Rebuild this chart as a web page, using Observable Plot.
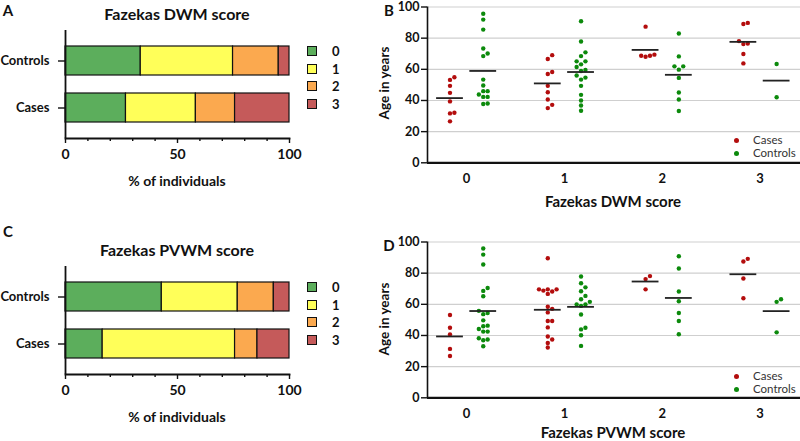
<!DOCTYPE html>
<html><head><meta charset="utf-8">
<script src="https://cdn.jsdelivr.net/npm/d3@7"></script>
<script src="https://cdn.jsdelivr.net/npm/@observablehq/plot@0.6"></script>
<style>
body{margin:0;background:#fff;}
#root{position:relative;width:800px;height:441px;overflow:hidden;font-family:Lato,"Open Sans",sans-serif;color:#111;}
.abs{position:absolute;white-space:nowrap;line-height:1;}
svg{overflow:visible;}
</style></head><body><div id="root"></div>
<script>
// ---------- data ----------
const scores = ["0", "1", "2", "3"];
const groups = ["Controls", "Cases"];
const barColors = ["#5cae5c", "#ffff59", "#fba94f", "#c55a5a"];

// % of individuals per Fazekas score
const dwmControlsPct = [33.6, 41.2, 20.4, 4.8];
const dwmCasesPct = [27.0, 31.2, 17.5, 24.3];
const pvwmControlsPct = [43.0, 33.9, 16.1, 7.0];
const pvwmCasesPct = [16.6, 59.1, 10.0, 14.3];

// ages (years) per score 0..3
const dwmCasesAges = [
  [54.9, 53.2, 49.4, 44.9, 39.4, 31.7, 32.1, 26.6],
  [69.1, 66.6, 57.0, 58.3, 49.4, 45.3, 40.6, 35.1, 37.2],
  [87.4, 68.1, 69.4, 68.7, 68.7],
  [89.1, 89.8, 78.1, 76.2, 76.6, 69.8, 63.8]
];
const dwmControlsAges = [
  [95.7, 91.9, 85.5, 73.4, 70.2, 68.5, 53.4, 49.6, 46.0, 46.0, 43.8, 42.3, 42.3, 37.7, 38.1],
  [90.9, 77.9, 68.5, 70.9, 65.1, 65.1, 63.2, 61.5, 58.9, 59.6, 56.0, 53.4, 54.7, 49.4, 43.6, 40.0, 36.8, 33.4],
  [83.0, 68.3, 59.8, 61.9, 61.9, 54.5, 45.1, 40.6, 33.2],
  [63.4, 42.1]
];
const pvwmCasesAges = [
  [53.1, 45.0, 40.6, 31.4, 26.8],
  [89.6, 68.2, 69.6, 69.6, 69.6, 66.7, 68.8, 58.4, 54.8, 57.1, 49.3, 49.3, 45.2, 39.3, 37.4, 35.2, 32.3],
  [76.2, 78.1, 69.6],
  [87.5, 89.2, 76.6, 63.9]
];
const pvwmControlsAges = [
  [95.8, 91.9, 85.6, 68.6, 70.5, 65.2, 53.7, 55.8, 54.4, 49.7, 46.3, 45.9, 44.2, 42.5, 42.5, 36.9, 38.2, 37.4, 33.1],
  [77.9, 73.5, 70.9, 68.4, 63.3, 65.4, 61.6, 59.0, 59.9, 59.9, 53.5, 43.9, 45.0, 40.1, 33.3],
  [90.9, 83.0, 68.2, 62.0, 54.4, 49.3, 40.8],
  [61.6, 63.3, 42.0]
];
const ageTicks = [0, 20, 40, 60, 80, 100];
const scoreTicks = [0, 1, 2, 3];
const dotGroups = ["Cases", "Controls"];
const dotColors = ["#b30d0d", "#0c8a0c"];

// ---------- helpers ----------
const root = document.getElementById("root");
function txt(s, cx, cy, size, weight, extra = {}) {
  const d = document.createElement("div");
  d.className = "abs";
  d.textContent = s;
  Object.assign(d.style, {left: cx + "px", top: cy + "px", fontSize: size + "px", fontWeight: weight,
    transform: "translate(-50%,-50%)" + (extra.rotate ? " rotate(-90deg)" : "")}, extra.style || {});
  root.appendChild(d);
}
function txtL(s, x, cy, size, weight, color) {
  const d = document.createElement("div");
  d.className = "abs";
  d.textContent = s;
  Object.assign(d.style, {left: x + "px", top: cy + "px", fontSize: size + "px", fontWeight: weight,
    transform: "translateY(-50%)", color: color || "#111"});
  root.appendChild(d);
}
function place(el, left, top) {
  el.style.position = "absolute"; el.style.left = left + "px"; el.style.top = top + "px";
  root.appendChild(el);
}

// ---------- bar panels ----------
function barPanel(ctrl, cases) {
  const data = [];
  scores.forEach((s, i) => {
    data.push({group: "Controls", score: s, pct: ctrl[i]});
    data.push({group: "Cases", score: s, pct: cases[i]});
  });
  return Plot.plot({
    width: 300, height: 195, marginLeft: 65, marginRight: 11, marginTop: 30, marginBottom: 57,
    style: {fontFamily: "Lato, sans-serif", fontSize: "13px", fontWeight: "bold", color: "#111", background: "transparent"},
    x: {domain: [0, 100], label: null},
    y: {domain: groups, paddingInner: 0.383, paddingOuter: 0.34, label: null},
    color: {domain: scores, range: barColors},
    marks: [
      Plot.barX(data, Plot.stackX({x: "pct", y: "group", fill: "score", order: scores, stroke: "#111", strokeWidth: 1.2})),
      Plot.axisX({ticks: [0, 50, 100], tickSize: 5, tickPadding: 6, strokeWidth: 1.4, label: null, fontSize: 14}),
      Plot.axisX({ticks: d3.range(10, 100, 10).filter(v => v !== 50), tickSize: 3, tickFormat: () => "", strokeWidth: 1.4, label: null}),
      Plot.axisY({tickSize: 7, tickPadding: 9, strokeWidth: 1.4, label: null, fontSize: 13}),
      Plot.ruleX([0], {stroke: "#111", strokeWidth: 1.8}),
      Plot.frame({anchor: "bottom", stroke: "#111", strokeWidth: 1.8})
    ]
  });
}
function barLegend(cyList) {
  scores.forEach((s, i) => {
    const sq = document.createElement("div");
    Object.assign(sq.style, {width: "10px", height: "10px", background: barColors[i], border: "1px solid #111", boxSizing: "border-box"});
    place(sq, 307, cyList[i] - 5);
    txtL(s, 332, cyList[i], 13, "bold");
  });
}

// ---------- dot panels ----------
const DW = 420, DH = 190, DML = 47, DMR = 0, DMT = 5.5, DMB = 28.7;
const xDom = [-0.4, 3.414];
const pxPerUnit = (DW - DML - DMR) / (xDom[1] - xDom[0]);
const yPix = d3.scaleLinear([0, 100], [DH - DMB, DMT]);
const dotR = 2.2, dotD = 4.4;

function swarm(vals) {
  const idx = vals.map((_, i) => i).sort((a, b) => vals[a] - vals[b]);
  const placed = [];
  const out = new Array(vals.length).fill(0);
  for (const i of idx) {
    const y = yPix(vals[i]);
    const near = placed.filter(p => Math.abs(p.y - y) < dotD);
    const bias = d3.sum(near, p => p.dx);
    const ok = c => near.every(p => (c - p.dx) ** 2 + (y - p.y) ** 2 >= dotD * dotD * 0.97);
    let chosen = 0;
    for (let k = 0; k < 20; k++) {
      const cands = k === 0 ? [0] : (bias > 0 ? [-k * dotD, k * dotD] : [k * dotD, -k * dotD]);
      const c = cands.find(ok);
      if (c !== undefined) { chosen = c; break; }
    }
    out[i] = chosen;
    placed.push({y, dx: chosen});
  }
  return out;
}

function dotPanel(casesAges, ctrlAges) {
  const dots = [], means = [];
  [["Cases", casesAges, -0.17], ["Controls", ctrlAges, 0.17]].forEach(([g, arr, off]) => {
    arr.forEach((vals, ci) => {
      const dx = swarm(vals);
      vals.forEach((v, j) => dots.push({group: g, age: v, x: ci + off + dx[j] / pxPerUnit}));
      means.push({x1: ci + off - 0.137, x2: ci + off + 0.137, age: d3.mean(vals)});
    });
  });
  return Plot.plot({
    width: DW, height: DH, marginLeft: DML, marginRight: DMR, marginTop: DMT, marginBottom: DMB,
    style: {fontFamily: "Lato, sans-serif", fontSize: "12.5px", fontWeight: "bold", color: "#111", background: "transparent"},
    x: {domain: xDom, label: null},
    y: {domain: [0, 100], label: null},
    color: {domain: dotGroups, range: dotColors},
    marks: [
      Plot.gridY({ticks: ageTicks.filter(t => t > 0), stroke: "#cfcfcf", strokeOpacity: 1, strokeWidth: 1.2}),
      Plot.dot(dots, {x: "x", y: "age", r: dotR, fill: "group", stroke: null}),
      Plot.ruleY(means, {y: "age", x1: "x1", x2: "x2", stroke: "#222", strokeWidth: 1.8}),
      Plot.axisY({ticks: ageTicks, tickSize: 6, tickPadding: 2, strokeWidth: 1.4, label: null}),
      Plot.axisX({ticks: scoreTicks, tickFormat: d => String(d), tickSize: 0, tickPadding: 11, label: null, fontSize: 13}),
      Plot.ruleX([xDom[0]], {stroke: "#111", strokeWidth: 1.6}),
      Plot.ruleY([0], {stroke: "#111", strokeWidth: 2.2})
    ]
  });
}
function dotLegend(top) {
  dotGroups.forEach((g, i) => {
    const c = document.createElement("div");
    Object.assign(c.style, {width: "5px", height: "5px", borderRadius: "50%", background: dotColors[i]});
    place(c, 733.5, top + i * 13 - 2.5);
    txtL(g, 753, top + i * 13, 11.5, "normal", "#333");
  });
}

// ---------- layout ----------
// Panel A
place(barPanel(dwmControlsPct, dwmCasesPct), 0, 0);
txt("A", 8, 10, 15, "bold");
txt("Fazekas DWM score", 177, 14, 16, "bold");
txt("% of individuals", 177, 181, 14, "bold");
barLegend([51, 68.5, 86, 103.5]);

// Panel C
place(barPanel(pvwmControlsPct, pvwmCasesPct), 0, 236);
txt("C", 8, 231, 15, "bold");
txt("Fazekas PVWM score", 177, 250, 16, "bold");
txt("% of individuals", 177, 417, 14, "bold");
barLegend([287, 304.5, 322, 339.5]);

// Panel B
place(dotPanel(dwmCasesAges, dwmControlsAges), 380, 0.5);
txt("B", 389, 10, 15, "bold");
txt("Age in years", 385, 83, 13.5, "bold", {rotate: true});
txt("Fazekas DWM score", 613, 201, 15, "bold");
dotLegend(140);

// Panel D
place(dotPanel(pvwmCasesAges, pvwmControlsAges), 380, 236.2);
txt("D", 389, 245, 15, "bold");
txt("Age in years", 385, 319, 13.5, "bold", {rotate: true});
txt("Fazekas PVWM score", 613, 432, 15, "bold");
dotLegend(376);
</script></body></html>
